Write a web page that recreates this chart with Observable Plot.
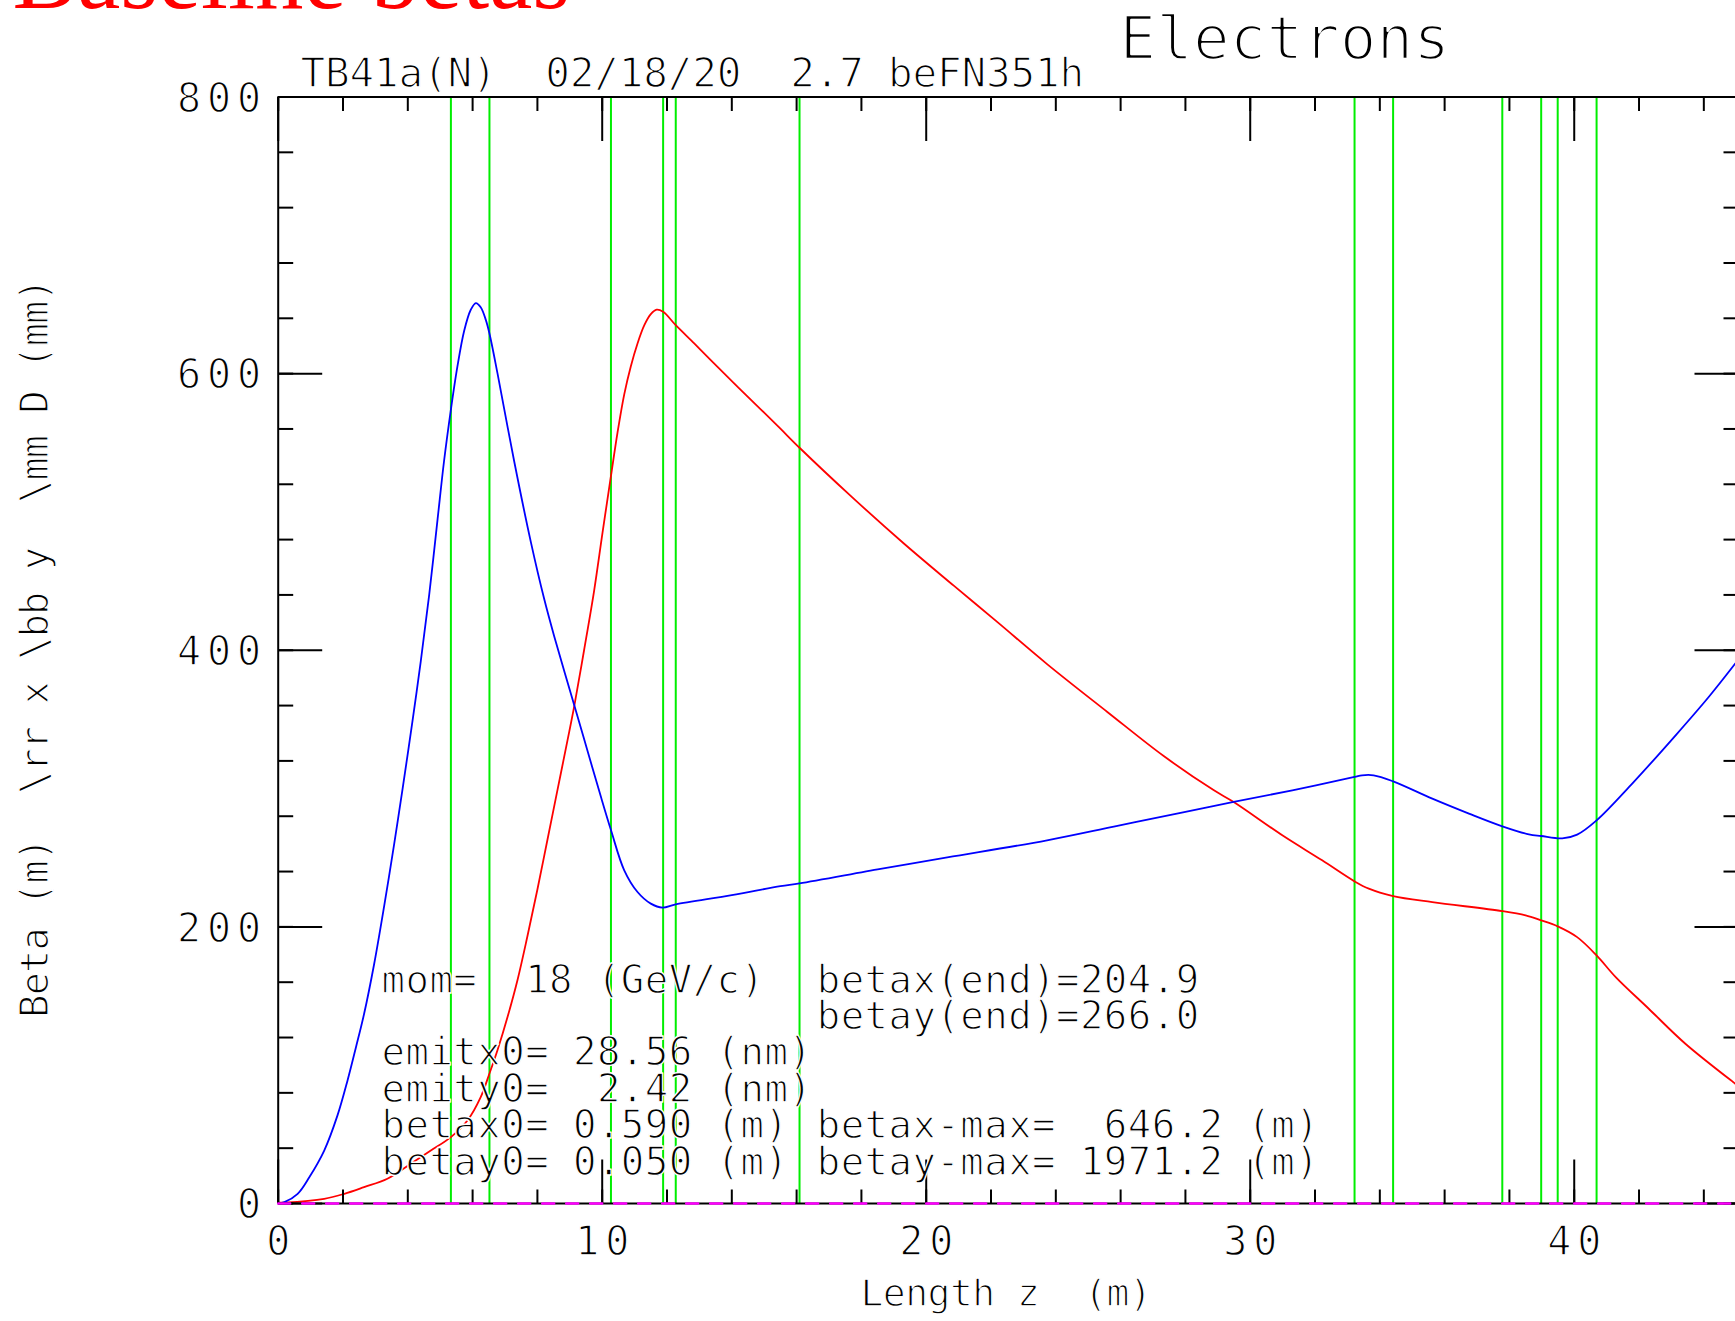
<!DOCTYPE html>
<html>
<head>
<meta charset="utf-8">
<script src="https://cdn.jsdelivr.net/npm/d3@7"></script>
<script src="https://cdn.jsdelivr.net/npm/@observablehq/plot@0.6"></script>
<style>
html, body { margin: 0; padding: 0; background: #fff; overflow: hidden; }
#chart svg { display: block; }
</style>
</head>
<body>
<div id="chart"></div>
<script>
// ---- Data ----
// Blue curve (beta y), z in m, beta in m
const blueZ = [0, 0.19, 0.60, 0.96, 1.42, 1.83, 2.14, 2.40, 2.65, 2.96, 3.27, 3.58, 3.84, 4.14, 4.40, 4.66, 4.92, 5.12, 5.33, 5.53, 5.74, 5.94, 6.10, 6.25, 6.41, 6.52, 6.77, 7.28, 7.80, 8.21, 8.52, 9.14, 9.55, 9.96, 10.27, 10.68, 11.09, 11.50, 11.86, 12.27, 14.0, 15.50, 16.09, 18.59, 20.65, 23.73, 25.79, 27.85, 29.49, 31.30, 33.22, 33.45, 33.81, 34.41, 35.62, 36.75, 37.78, 38.60, 38.98, 39.63, 40.09, 40.69, 41.79, 43.13, 44.15, 44.97, 45.07];
const blueBeta = [0.05, 1, 7, 19, 38.3, 63.7, 89, 113, 137, 173, 215, 260, 300, 348, 392, 440, 495, 537, 574, 605, 631, 646, 651, 648, 638.7, 629, 600, 537, 478, 437, 410, 360, 327, 294, 270, 240.9, 225.2, 216.8, 213.9, 216.3, 223, 229.4, 231.4, 241.9, 250.2, 262.6, 272.5, 282.5, 290.3, 298.7, 308.4, 309.6, 309.6, 305.2, 292.7, 281.9, 272.7, 266.9, 265.7, 264, 266.7, 277, 303.6, 338.5, 366.2, 390.4, 393.5];

// Red curve (beta x)
const redZ = [0, 0.19, 1.42, 2.04, 2.65, 3.37, 4.09, 4.71, 5.33, 5.84, 6.25, 6.52, 6.77, 7.08, 7.39, 7.69, 8.00, 8.31, 8.62, 8.93, 9.14, 9.44, 9.75, 10.01, 10.27, 10.47, 10.68, 10.88, 11.09, 11.30, 11.50, 11.68, 11.88, 12.27, 12.84, 13.35, 14.18, 14.90, 15.50, 16.09, 17.66, 19.31, 20.85, 22.19, 23.73, 25.59, 27.33, 28.88, 29.49, 30.99, 32.22, 33.22, 33.66, 34.41, 35.62, 37.78, 38.50, 38.98, 39.49, 40.09, 40.69, 41.28, 42.30, 43.43, 44.97, 45.07];
const redBeta = [0.59, 0.7, 3.4, 7, 11.8, 17.9, 28.7, 38.3, 48, 60, 76.9, 94, 111, 135, 162, 193, 227, 263, 299, 335, 360, 400, 443, 485, 526, 557, 585, 605, 621.8, 635, 643, 646.2, 644.7, 635, 621.8, 609.8, 590.5, 574, 560.2, 546.4, 511.8, 477.2, 446.7, 420.5, 390, 355.4, 323.5, 298.7, 290.3, 266.2, 248.1, 232.9, 227.6, 222.3, 217.9, 211.4, 208.3, 204.7, 200.4, 192.6, 179.4, 163.7, 140.8, 115.5, 86.6, 84.8];

// Dispersion (magenta, dashed) – zero along the line
const dispZ = [0, 45.07];
const dispD = [0, 0];

// Element positions (green vertical lines), m
const magnetZ = [5.33, 6.52, 10.27, 11.88, 12.27, 16.09, 33.22, 34.41, 37.78, 38.98, 39.49, 40.69];

// Axes
const xDomain = [0, 45.07];
const yDomain = [0, 800];
const xMinorTicks = d3.range(0, 46, 2);
const xMajorTicks = [0, 10, 20, 30, 40];
const xTickLabels = ["0", "10", "20", "30", "40"];
const yMinorTicks = d3.range(0, 801, 40);
const yMajorTicks = [0, 200, 400, 600, 800];
const yTickLabels = ["0", "200", "400", "600", "800"];

// Texts
const headerText = "Baseline betas";
const titleText = "Electrons";
const runText = "TB41a(N)  02/18/20  2.7 beFN351h";
const xLabel = "Length z  (m)";
const yLabel = "Beta (m)  \\rr x \\bb y  \\mm D (mm)";
const infoLeft = ["mom=  18 (GeV/c)", "emitx0= 28.56 (nm)", "emity0=  2.42 (nm)", "betax0= 0.590 (m)", "betay0= 0.050 (m)"];
const infoLeftY = [152.3, 99.8, 73.3, 47.4, 20.6];
const infoRight = ["betax(end)=204.9", "betay(end)=266.0", "betax-max=  646.2 (m)", "betay-max= 1971.2 (m)"];
const infoRightY = [152.3, 125.9, 47.4, 20.6];

// ---- Build ----
const blue = blueZ.map((z, i) => ({z, beta: blueBeta[i]}));
const red = redZ.map((z, i) => ({z, beta: redBeta[i]}));
const disp = dispZ.map((z, i) => ({z, d: dispD[i]}));

const MONO = "DejaVu Sans Mono, Liberation Mono, monospace";
const GREEN = "#00ee00";
const thin = (w) => ({stroke: "white", strokeWidth: w, paintOrder: "normal", strokeLinejoin: "round"});
const tickShape = {draw(context, l) { context.moveTo(0, 0); context.lineTo(0, -l); }};
const tickOpts = {shape: tickShape, anchor: "start", stroke: "black", strokeWidth: 2, strokeLinecap: "butt", fill: "none"};

const chart = Plot.plot({
  width: 1735,
  height: 1321,
  marginLeft: 277.7,
  marginRight: 0,
  marginTop: 96.5,
  marginBottom: 118,
  style: {background: "white"},
  x: {domain: xDomain, range: [277.7, 1738], axis: null},
  y: {domain: yDomain, range: [1203, 96.5], axis: null},
  marks: [
    Plot.ruleX(magnetZ, {x: d => d, y1: 0, y2: 800, stroke: GREEN, strokeWidth: 2}),
    Plot.line(red, {x: "z", y: "beta", stroke: "#ff0000", strokeWidth: 1.8, curve: "catmull-rom"}),
    Plot.line(blue, {x: "z", y: "beta", stroke: "#0000ff", strokeWidth: 1.8, curve: "catmull-rom"}),
    // frame
    Plot.ruleX([0, 45.07], {x: d => d, y1: 0, y2: 800, stroke: "black", strokeWidth: 2}),
    Plot.ruleY([0, 800], {y: d => d, x1: 0, x2: 45.07, stroke: "black", strokeWidth: 2}),
    // ticks left / right
    Plot.vector(yMinorTicks, {x: 0, y: d => d, length: 15, rotate: 90, ...tickOpts}),
    Plot.vector(yMajorTicks, {x: 0, y: d => d, length: 44, rotate: 90, ...tickOpts}),
    Plot.vector(yMinorTicks, {x: 45.07, y: d => d, length: 15, rotate: -90, ...tickOpts}),
    Plot.vector(yMajorTicks, {x: 45.07, y: d => d, length: 44, rotate: -90, ...tickOpts}),
    // ticks bottom / top
    Plot.vector(xMinorTicks, {x: d => d, y: 0, length: 14, rotate: 0, ...tickOpts}),
    Plot.vector(xMajorTicks, {x: d => d, y: 0, length: 44, rotate: 0, ...tickOpts}),
    Plot.vector(xMinorTicks, {x: d => d, y: 800, length: 14, rotate: 180, ...tickOpts}),
    Plot.vector(xMajorTicks, {x: d => d, y: 800, length: 44, rotate: 180, ...tickOpts}),
    // dispersion
    Plot.line(disp, {x: "z", y: "d", stroke: "#ff00ff", strokeWidth: 2.4, strokeDasharray: "12,12"}),
    // tick labels
    Plot.text(yMajorTicks, {x: 0, y: d => d, text: (d, i) => yTickLabels[i], textAnchor: "end", lineAnchor: "middle", dx: -11, dy: 2, fontSize: 40, fontFamily: MONO, fill: "black", ...thin(1.3)}),
    Plot.text(xMajorTicks, {x: d => d, y: 0, text: (d, i) => xTickLabels[i], textAnchor: "middle", lineAnchor: "bottom", dx: 3, dy: 51, fontSize: 40, fontFamily: MONO, fill: "black", ...thin(1.3)}),
    // axis labels
    Plot.text([xLabel], {x: 17.97, y: -74.25, text: d => d, textAnchor: "start", lineAnchor: "bottom", fontSize: 38, fontFamily: MONO, fill: "black", ...thin(1.3)}),
    Plot.text([yLabel], {x: -7.1, y: 401.3, text: d => d, rotate: -90, textAnchor: "middle", lineAnchor: "bottom", fontSize: 38.5, fontFamily: MONO, fill: "black", ...thin(1.3)}),
    // headers
    Plot.text([runText], {x: 0.688, y: 807.4, text: d => d, textAnchor: "start", lineAnchor: "bottom", fontSize: 41, fontFamily: MONO, fill: "black", ...thin(1.4)}),
    Plot.text([titleText], {x: 25.965, y: 827.4, text: d => d, textAnchor: "start", lineAnchor: "bottom", fontSize: 61, fontFamily: MONO, fill: "black", ...thin(2.6)}),
    Plot.text([headerText], {x: -8.2, y: 864.0, text: d => d, textAnchor: "start", lineAnchor: "bottom", fontSize: 97, fontFamily: "Liberation Serif, DejaVu Serif, serif", fill: "#ff0000"}),
    // info block
    Plot.text(infoLeft, {x: 3.19, y: (d, i) => infoLeftY[i], text: d => d, textAnchor: "start", lineAnchor: "bottom", fontSize: 39, fontFamily: MONO, fill: "black", ...thin(1.3)}),
    Plot.text(infoRight, {x: 16.62, y: (d, i) => infoRightY[i], text: d => d, textAnchor: "start", lineAnchor: "bottom", fontSize: 39, fontFamily: MONO, fill: "black", ...thin(1.3)})
  ]
});

document.getElementById("chart").appendChild(chart);
const svg = d3.select(chart);
svg.selectAll('g[font-size="40"]').style("letter-spacing", "6px");
svg.selectAll('g[font-size="39"]').style("letter-spacing", "0.45px");
svg.selectAll('g[font-size="41"]').style("letter-spacing", "-0.2px");
svg.selectAll('g[font-size="38"]').style("letter-spacing", "-0.5px");
svg.selectAll('g[font-size="38.5"]').style("letter-spacing", "-0.8px");
</script>
</body>
</html>
